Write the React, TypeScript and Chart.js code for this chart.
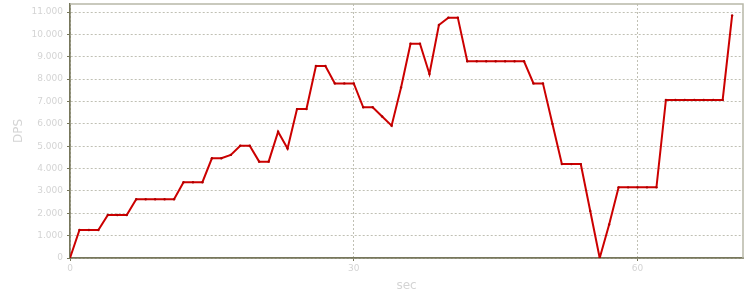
import React, { useEffect, useRef } from "react";
import { Chart, registerables } from "chart.js";

Chart.register(...registerables);

const seconds: number[] = [
  0, 1, 2, 3, 4, 5, 6, 7, 8, 9, 10, 11, 12, 13, 14, 15, 16, 17, 18, 19, 20,
  21, 22, 23, 24, 25, 26, 27, 28, 29, 30, 31, 32, 33, 34, 35, 36, 37, 38, 39,
  40, 41, 42, 43, 44, 45, 46, 47, 48, 49, 50, 51, 52, 53, 54, 55, 56, 57, 58,
  59, 60, 61, 62, 63, 64, 65, 66, 67, 68, 69, 70,
];

const dps: number[] = [
  0, 1250, 1250, 1250, 1920, 1920, 1920, 2630, 2630, 2630, 2630, 2630, 3390,
  3390, 3390, 4460, 4460, 4610, 5020, 5020, 4310, 4310, 5650, 4900, 6660,
  6660, 8590, 8590, 7810, 7810, 7810, 6740, 6740, 6330, 5920, 7630, 9580,
  9580, 8230, 10420, 10750, 10750, 8800, 8800, 8800, 8800, 8800, 8800, 8800,
  7810, 7810, 6000, 4200, 4200, 4200, 2100, 0, 1500, 3160, 3160, 3160, 3160,
  3160, 7070, 7070, 7070, 7070, 7070, 7070, 7070, 10850,
];

const xTicks: number[] = [0, 30, 60];
const yTicks: number[] = [
  0, 1000, 2000, 3000, 4000, 5000, 6000, 7000, 8000, 9000, 10000, 11000,
];

function formatThousands(v: number): string {
  const s = Math.round(v).toString();
  return s.replace(/\B(?=(\d{3})+(?!\d))/g, ".");
}

const frameBorder = {
  id: "frameBorder",
  afterDraw(chart: any) {
    const { ctx, chartArea } = chart;
    const { left, right, top, bottom } = chartArea;
    ctx.save();
    ctx.strokeStyle = "#b8b8a8";
    ctx.lineWidth = 1.5;
    ctx.beginPath();
    ctx.moveTo(left, top);
    ctx.lineTo(right, top);
    ctx.lineTo(right, bottom);
    ctx.stroke();
    ctx.restore();
  },
};

export default function App() {
  const ref = useRef<HTMLCanvasElement | null>(null);

  useEffect(() => {
    if (!ref.current) return;
    const points = seconds.map((s, i) => ({ x: s, y: dps[i] }));
    const font = "'DejaVu Sans', Verdana, sans-serif";
    const chart = new Chart(ref.current, {
      type: "line",
      data: {
        datasets: [
          {
            label: "DPS",
            data: points,
            borderColor: "#cc0000",
            borderWidth: 2,
            pointRadius: 1.2,
            pointBackgroundColor: "#b00000",
            pointBorderColor: "#b00000",
            pointBorderWidth: 0,
            tension: 0,
          },
        ],
      },
      options: {
        animation: false,
        responsive: false,
        maintainAspectRatio: false,
        layout: { padding: { top: 4, right: 7, left: 0, bottom: 0 } },
        plugins: {
          legend: { display: false },
          tooltip: { enabled: false },
        },
        scales: {
          x: {
            type: "linear",
            min: 0,
            max: 71.15,
            afterFit: (scale: any) => {
              scale.height = 42;
              scale.paddingLeft = 0;
              scale.paddingRight = 0;
            },
            afterBuildTicks: (scale: any) => {
              scale.ticks = xTicks.map((v) => ({ value: v }));
            },
            ticks: {
              includeBounds: false,
              color: "#d4d4d4",
              font: { family: font, size: 9 },
              padding: 2,
              maxRotation: 0,
              callback: (v: any) => String(v),
            },
            grid: {
              color: "#c0c0b4",
              lineWidth: 1,
              tickLength: 3,
              tickColor: "#77775c",
              tickBorderDash: [],
            },
            border: {
              color: "#77775c",
              width: 1.7,
              dash: [2, 2],
            },
            title: {
              display: true,
              text: "sec",
              color: "#d4d4d4",
              font: { family: font, size: 12 },
              padding: { top: 0, bottom: 7 },
            },
          },
          y: {
            type: "linear",
            min: 0,
            max: 11360,
            afterFit: (scale: any) => {
              scale.width = 70;
              scale.paddingTop = 0;
              scale.paddingBottom = 0;
            },
            afterBuildTicks: (scale: any) => {
              scale.ticks = yTicks.map((v) => ({ value: v }));
            },
            ticks: {
              includeBounds: false,
              color: "#d4d4d4",
              font: { family: font, size: 9 },
              padding: 4,
              callback: (v: any) => formatThousands(Number(v)),
            },
            grid: {
              color: "#c0c0b4",
              lineWidth: 1,
              tickLength: 3,
              tickColor: "#77775c",
              tickBorderDash: [],
            },
            border: {
              color: "#77775c",
              width: 1.7,
              dash: [2, 2],
            },
            title: {
              display: true,
              text: "DPS",
              color: "#d4d4d4",
              font: { family: font, size: 12 },
              padding: { top: 12, bottom: 0 },
            },
          },
        },
      },
      plugins: [frameBorder],
    });
    return () => chart.destroy();
  }, []);

  return (
    <div style={{ position: "absolute", left: 0, top: 0, width: 750, height: 300, background: "#fff" }}>
      <canvas ref={ref} width={750} height={300} style={{ display: "block", width: 750, height: 300 }} />
    </div>
  );
}
